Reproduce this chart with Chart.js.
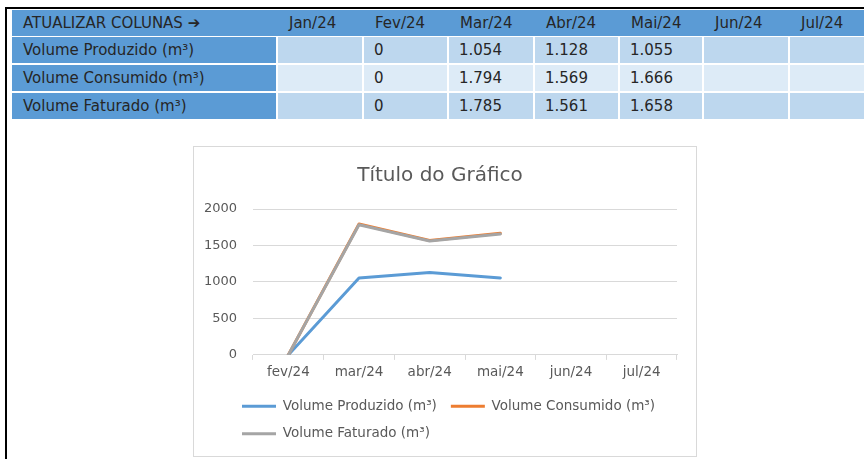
<!DOCTYPE html>
<html><head><meta charset="utf-8">
<script src="https://cdn.jsdelivr.net/npm/chart.js@4.4.1/dist/chart.umd.min.js"></script>
<style>
html,body{margin:0;padding:0;background:#fff;width:864px;height:459px;overflow:hidden;position:relative;font-family:"DejaVu Sans",sans-serif;}
.frame{position:absolute;left:5px;top:7px;width:900px;height:500px;border-left:2px solid #000;border-top:2px solid #000;}
.cell{position:absolute;box-sizing:border-box;font-size:15px;color:#262626;height:26px;line-height:26px;white-space:nowrap;overflow:visible;}
#chartBox{position:absolute;left:193px;top:146px;width:502px;height:309px;border:1px solid #D9D9D9;background:#fff;}
canvas{display:block;}
</style></head>
<body>
<div class="frame"></div>
<div id="table"></div>
<div id="chartBox"><canvas id="c" width="502" height="309"></canvas></div>
<script>
// ---- data ----
const headerLabel = 'ATUALIZAR COLUNAS \u2794';
const monthLabels = ['Jan/24','Fev/24','Mar/24','Abr/24','Mai/24','Jun/24','Jul/24'];
const rowLabels = ['Volume Produzido (m\u00B3)','Volume Consumido (m\u00B3)','Volume Faturado (m\u00B3)'];
const produzido = [null, 0, 1054, 1128, 1055, null, null];
const consumido = [null, 0, 1794, 1569, 1666, null, null];
const faturado  = [null, 0, 1785, 1561, 1658, null, null];
const chartCategories = ['fev/24','mar/24','abr/24','mai/24','jun/24','jul/24'];
const chartTitle = 'Título do Gráfico';
const yMin = 0, yMax = 2000, yStep = 500;

// ---- table ----
const colLeft  = [12, 278, 364, 449, 535, 620, 704, 790];
const colRight = [276, 362, 447, 533, 618, 702, 788, 874];
const rowTop = [37, 65, 93];
const rowFill = ['#BDD7EE', '#DDEBF7', '#BDD7EE'];
const blue = '#5B9BD5';
const tbl = document.getElementById('table');
function fmt(v){ if (v === null) return ''; const s = String(v); return s.length > 3 ? s.slice(0, s.length-3) + '.' + s.slice(-3) : s; }
function cell(x, y, w, bg, text, pad){
  const d = document.createElement('div');
  d.className = 'cell';
  d.style.left = x + 'px'; d.style.top = y + 'px'; d.style.width = w + 'px';
  d.style.background = bg; d.style.paddingLeft = pad + 'px';
  d.textContent = text; tbl.appendChild(d); return d;
}
cell(12, 10, 852, blue, '', 0);
cell(12, 10, 264, 'transparent', headerLabel, 11);
monthLabels.forEach((m, i) => cell(colLeft[i+1], 10, colRight[i+1]-colLeft[i+1], 'transparent', m, 11));
const series = [produzido, consumido, faturado];
rowLabels.forEach((lab, r) => {
  cell(colLeft[0], rowTop[r], colRight[0]-colLeft[0], blue, lab, 11);
  series[r].forEach((v, i) => cell(colLeft[i+1], rowTop[r], colRight[i+1]-colLeft[i+1], rowFill[r], fmt(v), 10));
});

// ---- chart ----
const gray = '#595959';
const legendShift = {
  id: 'legendShift',
  afterLayout(chart) { if (chart.legend) { chart.legend.left = 34; } }
};
new Chart(document.getElementById('c'), {
  type: 'line',
  plugins: [legendShift],
  data: {
    labels: chartCategories,
    datasets: [
      { label: rowLabels[0], data: produzido.slice(1), borderColor: '#5B9BD5', backgroundColor: '#5B9BD5', order: 2 },
      { label: rowLabels[1], data: consumido.slice(1), borderColor: '#ED7D31', backgroundColor: '#ED7D31', order: 1 },
      { label: rowLabels[2], data: faturado.slice(1),  borderColor: '#A5A5A5', backgroundColor: '#A5A5A5', order: 0 }
    ]
  },
  options: {
    responsive: false,
    animation: false,
    devicePixelRatio: 1,
    elements: {
      line: { borderWidth: 3, tension: 0, borderCapStyle: 'round', borderJoinStyle: 'round', fill: false },
      point: { radius: 0, hoverRadius: 0, borderWidth: 3 }
    },
    layout: { padding: { top: 6, left: 9, right: 19, bottom: 5.5 } },
    plugins: {
      title: { display: true, text: chartTitle, color: gray, font: { family: 'DejaVu Sans', size: 20, weight: 'normal' }, padding: { top: 11, bottom: 21 } },
      legend: {
        position: 'bottom', align: 'start',
        labels: {
          usePointStyle: true, pointStyle: 'line', pointStyleWidth: 34, boxHeight: 3,
          padding: 14, color: gray, font: { family: 'DejaVu Sans', size: 13.5 },
          sort: (a, b) => a.datasetIndex - b.datasetIndex
        }
      },
      tooltip: { enabled: false }
    },
    scales: {
      x: {
        offset: true,
        grid: { offset: true, drawOnChartArea: false, drawTicks: true, tickLength: 5, color: '#D9D9D9' },
        border: { display: true, color: '#D9D9D9', width: 1 },
        ticks: { color: gray, padding: 4.7, font: { family: 'DejaVu Sans', size: 13.5 }, maxRotation: 0 }
      },
      y: {
        min: yMin, max: yMax,
        afterFit: (s) => { s.width = 50; },
        grid: { color: '#D9D9D9', drawTicks: false },
        border: { display: false },
        ticks: { stepSize: yStep, color: gray, padding: 16, font: { family: 'DejaVu Sans', size: 13 }, callback: (v) => String(v) }
      }
    }
  }
});
</script>
</body></html>
